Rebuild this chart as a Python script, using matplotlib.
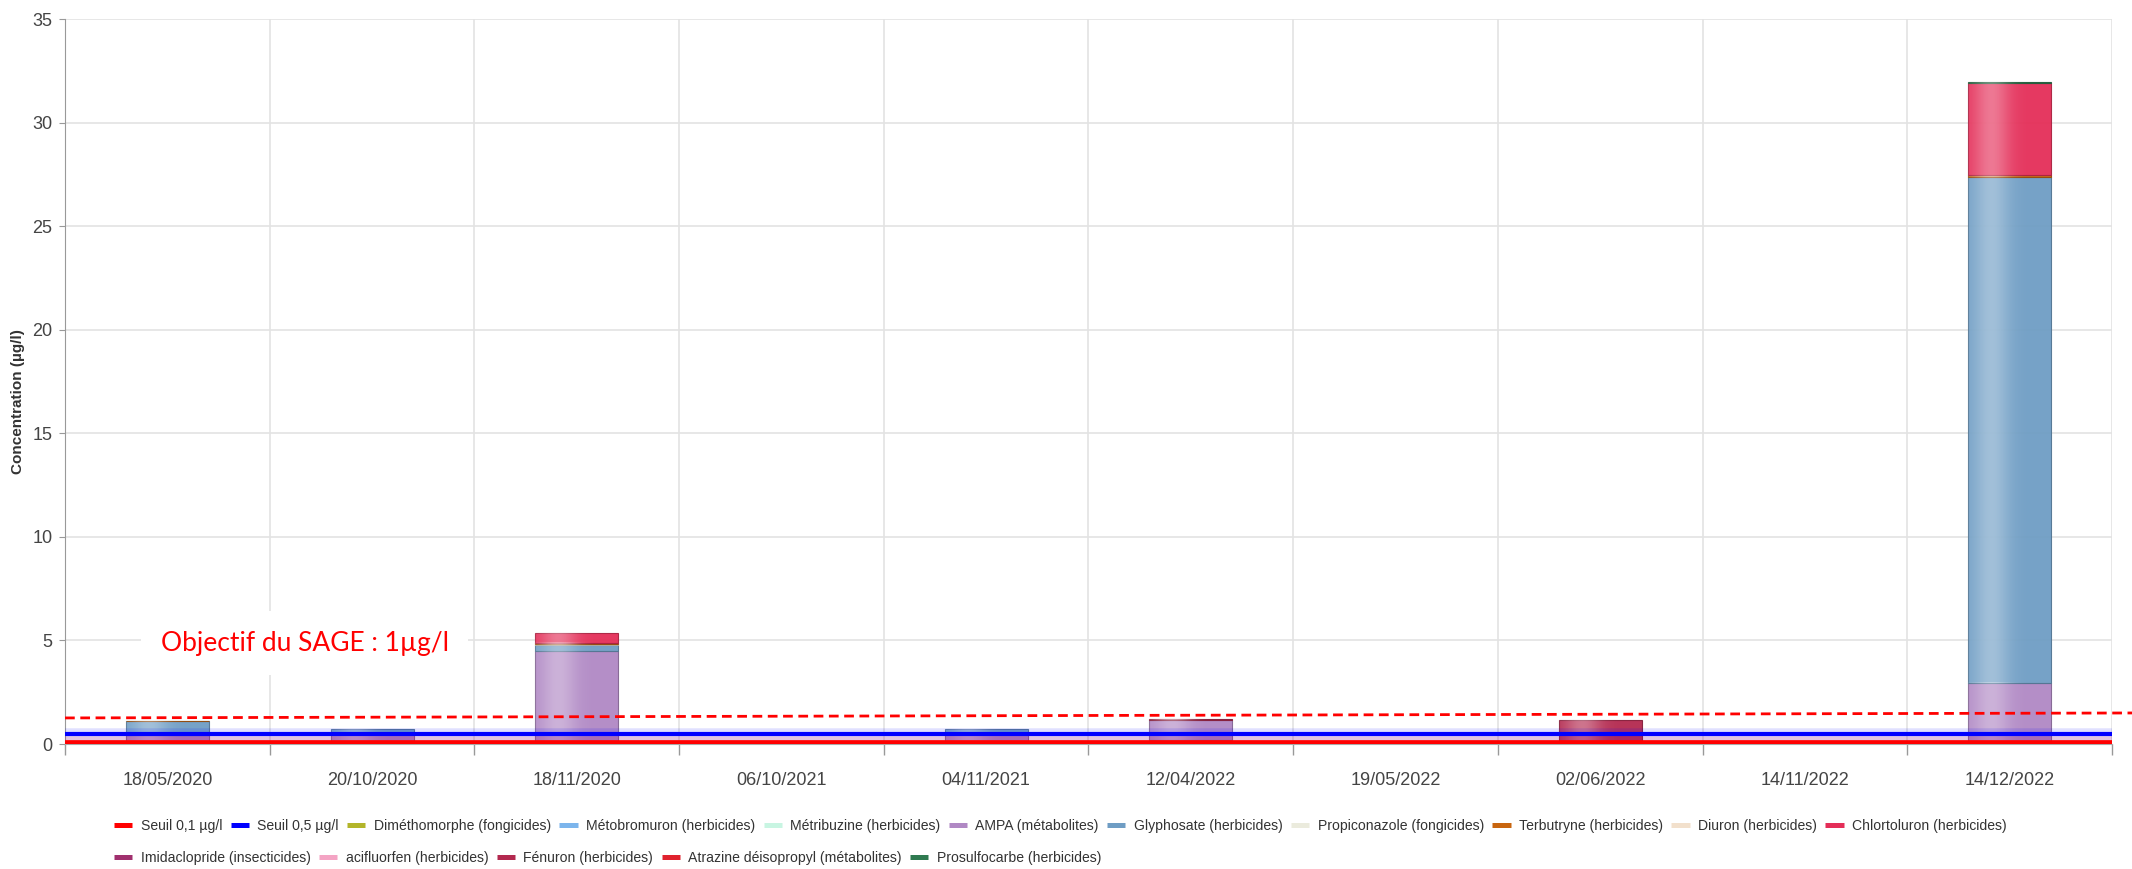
import matplotlib.pyplot as plt
import numpy as np
from matplotlib.lines import Line2D
from matplotlib.colors import to_rgb

plt.rcParams['font.family'] = ['Liberation Sans', 'DejaVu Sans']

dates = ["18/05/2020", "20/10/2020", "18/11/2020", "06/10/2021", "04/11/2021",
         "12/04/2022", "19/05/2022", "02/06/2022", "14/11/2022", "14/12/2022"]

# threshold lines (µg/l)
seuil_01 = 0.1
seuil_05 = 0.5

# concentrations per substance (µg/l), stacked bottom to top
dimethomorphe = [0.05, 0, 0, 0, 0, 0, 0, 0, 0, 0]
metobromuron = [0, 0, 0, 0, 0, 0.06, 0, 0, 0, 0]
metribuzine = [0, 0, 0, 0, 0, 0.12, 0, 0, 0, 0]
ampa = [0.40, 0.55, 4.47, 0, 0.52, 1.00, 0, 0, 0, 2.95]
glyphosate = [0.65, 0.17, 0.29, 0, 0.20, 0, 0, 0, 0, 24.45]
propiconazole = [0, 0, 0.05, 0, 0, 0, 0, 0, 0, 0]
terbutryne = [0.02, 0, 0.09, 0, 0, 0, 0, 0, 0, 0.08]
diuron = [0, 0, 0, 0, 0, 0, 0, 0, 0.05, 0]
chlortoluron = [0, 0, 0.44, 0, 0, 0, 0, 0, 0, 4.42]
imidaclopride = [0, 0, 0, 0, 0, 0, 0.10, 0, 0, 0]
acifluorfen = [0, 0, 0, 0, 0, 0, 0, 0, 0, 0]
fenuron = [0, 0, 0, 0, 0, 0.03, 0, 1.16, 0, 0]
atrazine_deiso = [0, 0, 0, 0, 0, 0, 0, 0, 0, 0]
prosulfocarbe = [0, 0, 0, 0, 0, 0, 0, 0, 0, 0.06]

series = [
    ("Diméthomorphe (fongicides)", dimethomorphe, "#b3b52a"),
    ("Métobromuron (herbicides)", metobromuron, "#7cb5ec"),
    ("Métribuzine (herbicides)", metribuzine, "#c8f5e2"),
    ("AMPA (métabolites)", ampa, "#b088c4"),
    ("Glyphosate (herbicides)", glyphosate, "#6f9dc4"),
    ("Propiconazole (fongicides)", propiconazole, "#ebebdd"),
    ("Terbutryne (herbicides)", terbutryne, "#c8650f"),
    ("Diuron (herbicides)", diuron, "#f2e0cc"),
    ("Chlortoluron (herbicides)", chlortoluron, "#e42e58"),
    ("Imidaclopride (insecticides)", imidaclopride, "#a0306e"),
    ("acifluorfen (herbicides)", acifluorfen, "#f4a4c4"),
    ("Fénuron (herbicides)", fenuron, "#b3294f"),
    ("Atrazine déisopropyl (métabolites)", atrazine_deiso, "#e0222e"),
    ("Prosulfocarbe (herbicides)", prosulfocarbe, "#2f7a50"),
]

fig = plt.figure(figsize=(21.32, 8.69), dpi=100)
ax = fig.add_axes([0.0305, 0.1438, 0.9601, 0.8342])

x = np.arange(len(dates))
bottom = np.zeros(len(dates))
bar_w = 0.405

# glossy highlight profile across the bar width
t = np.linspace(0, 1, 80)
shine = 0.32 * np.exp(-((t - 0.28) / 0.22) ** 2)
overlay = np.zeros((1, len(t), 4))
overlay[..., :3] = 1.0
overlay[..., 3] = shine

for name, vals, col in series:
    vals = np.array(vals, dtype=float)
    idx = np.nonzero(vals)[0]
    if len(idx):
        edge = tuple(c * 0.75 for c in to_rgb(col))
        bars = ax.bar(x[idx], vals[idx], bar_w, bottom=bottom[idx], color=col,
                      edgecolor=edge, linewidth=0.8, alpha=0.95, zorder=2)
        for p in bars:
            x0, y0 = p.get_x(), p.get_y()
            ax.imshow(overlay, extent=(x0, x0 + p.get_width(), y0, y0 + p.get_height()),
                      aspect='auto', interpolation='bilinear', zorder=2.5)
    bottom += vals

# threshold lines with soft glow
ax.axhline(seuil_05, color='#0000ff', lw=9, alpha=0.12, zorder=4)
ax.axhline(seuil_05, color='#0000ff', lw=3, zorder=5)
ax.axhline(seuil_01, color='#ff0000', lw=9, alpha=0.12, zorder=4)
ax.axhline(seuil_01, color='#ff0000', lw=3.4, zorder=5)

# hand-drawn objective annotation
ax.plot([-0.5, 9.6], [1.26, 1.50], color='#ff0000', lw=2, ls=(0, (3.5, 2)),
        clip_on=False, zorder=6)
ax.text(0.117, 0.139, "Objectif du SAGE : 1µg/l", transform=ax.transAxes,
        fontsize=19, family=['Lato', 'DejaVu Sans'], color='#ff0000',
        ha='center', va='center', zorder=7,
        bbox=dict(facecolor='white', edgecolor='none', pad=14))

ax.set_xlim(-0.5, len(dates) - 0.5)
ax.set_ylim(0, 35)
ax.set_yticks(np.arange(0, 36, 5))
ax.set_xticks(x)
ax.set_xticklabels(dates)
ax.set_xticks(np.arange(-0.5, len(dates), 1), minor=True)

ax.tick_params(axis='x', which='major', length=0, pad=20, labelsize=13, labelcolor='#444444')
ax.tick_params(axis='x', which='minor', length=8, color='#999999', width=1)
ax.tick_params(axis='y', length=4, color='#999999', pad=5, labelsize=13, labelcolor='#444444')

ax.grid(axis='y', color='#e3e3e3', lw=1.2, zorder=0)
ax.grid(axis='x', which='minor', color='#e3e3e3', lw=1.2, zorder=0)
ax.set_axisbelow(True)
for s in ['top', 'right']:
    ax.spines[s].set_visible(False)
ax.spines['left'].set_color('#999999')
ax.spines['bottom'].set_color('#aaaaaa')

fig.text(0.0085, 0.538, "Concentration (µg/l)", rotation=90, ha='center', va='center',
         fontsize=11, fontweight='bold', color='#333333')

# legend in two flowing rows
handles = [Line2D([], [], color='#ff0000', lw=3.6, solid_capstyle='butt'),
           Line2D([], [], color='#0000ff', lw=3.6, solid_capstyle='butt')]
labels = ["Seuil 0,1 µg/l", "Seuil 0,5 µg/l"]
for name, vals, col in series:
    handles.append(Line2D([], [], color=col, lw=3.6, solid_capstyle='butt'))
    labels.append(name)

leg_kw = dict(frameon=False, fontsize=10.1, handlelength=1.3, handletextpad=0.6,
              columnspacing=0.6, borderpad=0, borderaxespad=0, labelcolor='#333333')
fig.legend(handles[:11], labels[:11], ncol=11, loc='center left',
           bbox_to_anchor=(0.0535, 0.0495), **leg_kw)
fig.legend(handles[11:], labels[11:], ncol=5, loc='center left',
           bbox_to_anchor=(0.0535, 0.0127), **leg_kw)

plt.savefig("out.png", dpi=100)
